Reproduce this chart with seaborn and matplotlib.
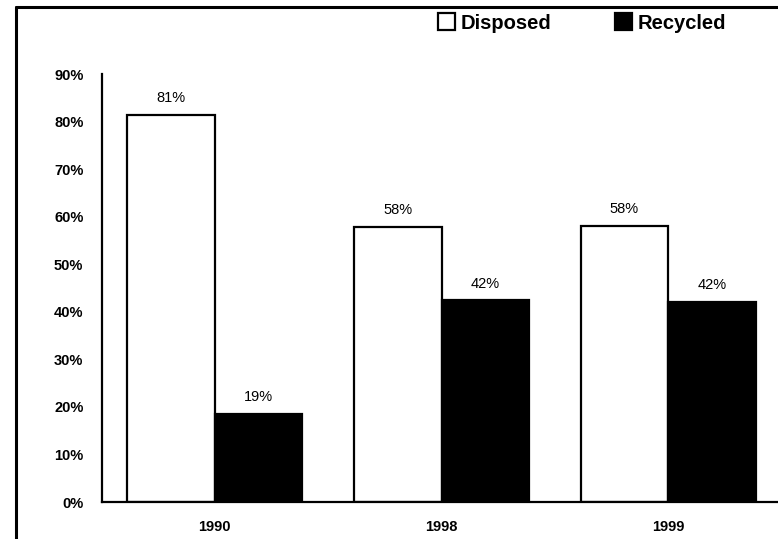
import matplotlib
matplotlib.use('Agg')
import matplotlib.pyplot as plt
import seaborn as sns
import pandas as pd
from matplotlib.lines import Line2D
from matplotlib.ticker import PercentFormatter, MultipleLocator

# Data
years = ['1990', '1998', '1999']
disposed = [81.4, 57.9, 58.0]
recycled = [18.6, 42.4, 42.1]
disposed_labels = ['81%', '58%', '58%']
recycled_labels = ['19%', '42%', '42%']

df = pd.DataFrame({
    'Year': years * 2,
    'Share': disposed + recycled,
    'Type': ['Disposed'] * 3 + ['Recycled'] * 3,
})

sns.set_style('white')
plt.rcParams['font.family'] = ['Liberation Sans', 'DejaVu Sans']
plt.rcParams['text.color'] = 'black'
plt.rcParams['xtick.color'] = 'black'
plt.rcParams['ytick.color'] = 'black'

fig = plt.figure(figsize=(7.78, 5.39), dpi=100)
ax = fig.add_axes([101.5 / 778, 1 - 502 / 539, 680 / 778, 428 / 539])

sns.barplot(data=df, x='Year', y='Share', hue='Type', order=years,
            palette={'Disposed': 'white', 'Recycled': 'black'},
            edgecolor='black', linewidth=1.6, width=0.772, ax=ax)

# value labels above bars
for cont, labs in zip(ax.containers, [disposed_labels, recycled_labels]):
    ax.bar_label(cont, labels=labs, padding=7, fontsize=10.5, color='black')

ax.set_ylim(0, 90)
ax.set_xlim(-0.5, 2.5)
ax.yaxis.set_major_locator(MultipleLocator(10))
ax.yaxis.set_major_formatter(PercentFormatter(xmax=100, decimals=0))
ax.set_xlabel('')
ax.set_ylabel('')

for side in ['top', 'right']:
    ax.spines[side].set_visible(False)
for side in ['left', 'bottom']:
    ax.spines[side].set_color('black')
    ax.spines[side].set_linewidth(1.6)

ax.tick_params(axis='y', direction='out', length=5, width=1.5, color='black',
               labelsize=10.5, pad=8, labelcolor='black')
ax.tick_params(axis='x', length=0, labelsize=10.5, pad=13, labelcolor='black')
for lab in ax.get_yticklabels() + ax.get_xticklabels():
    lab.set_fontweight('bold')

# legend along the top
handles, labels = ax.get_legend_handles_labels()
ax.legend_.remove()
leg = fig.legend(handles, labels, loc='center', bbox_to_anchor=(582 / 778, 1 - 23 / 539),
                 ncol=2, frameon=False, handlelength=0.85, handleheight=0.85,
                 handletextpad=0.25, columnspacing=3.2,
                 prop={'weight': 'bold', 'size': 14.5})
for t in leg.get_texts():
    t.set_color('black')

# outer frame (clipped at right and bottom in the original)
x0 = 16 / 778
y0 = 1 - 7 / 539
fig.add_artist(Line2D([x0, 1.01], [y0, y0], color='black', lw=2.2,
                      transform=fig.transFigure))
fig.add_artist(Line2D([x0, x0], [-0.01, y0], color='black', lw=2.2,
                      transform=fig.transFigure))

fig.savefig('out.png', dpi=100)
